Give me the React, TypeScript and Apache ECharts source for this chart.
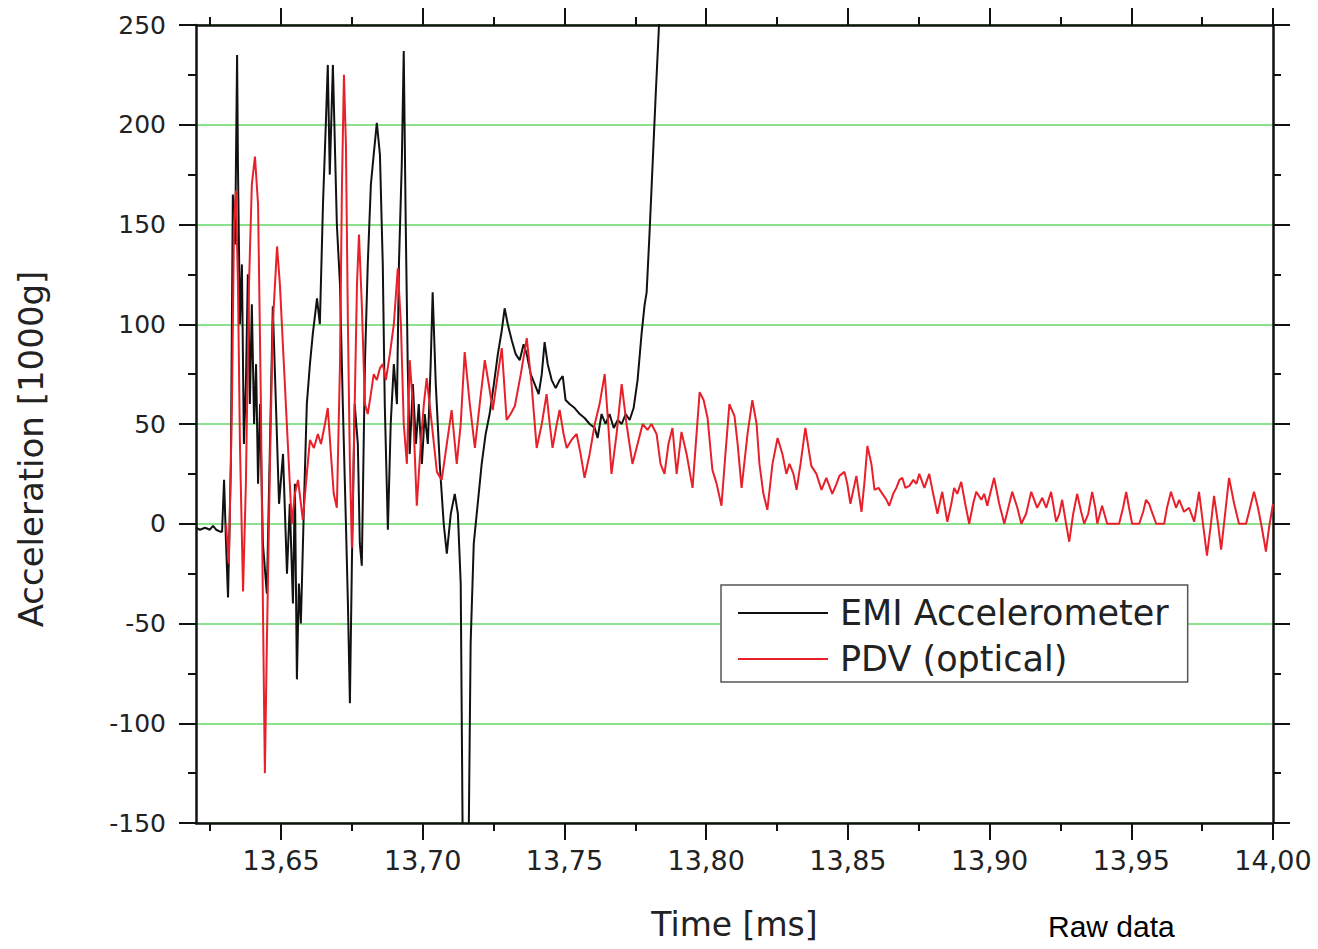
import React, { useEffect, useRef } from "react";
import * as echarts from "echarts";

// Time [ms], Acceleration [1000 g]
const emiSamples: [number, number][] = [
  [13.62, -2], [13.6214, -3], [13.6232, -2], [13.6249, -3], [13.626, -1], [13.6271, -3], [13.6285, -4], [13.6292, -4], [13.6299, 22], [13.6306, -10],
  [13.6313, -37], [13.6323, 30], [13.633, 165], [13.6338, 140], [13.6345, 235], [13.6348, 180], [13.6355, 100], [13.6362, 130], [13.6369, 40], [13.6376, 70],
  [13.6383, 125], [13.639, 60], [13.6397, 110], [13.6405, 50], [13.6412, 80], [13.6419, 20], [13.6426, 60], [13.6436, -10], [13.645, -35], [13.6461, 40],
  [13.6471, 109], [13.6482, 60], [13.6493, 10], [13.6507, 35], [13.6521, -25], [13.6531, 10], [13.6542, -40], [13.6549, 20], [13.6556, -78], [13.6563, -30],
  [13.657, -50], [13.6581, 10], [13.6591, 60], [13.6602, 80], [13.6612, 95], [13.6627, 113], [13.6637, 100], [13.6648, 160], [13.6658, 200], [13.6665, 230],
  [13.6672, 175], [13.6683, 230], [13.669, 190], [13.6697, 150], [13.6708, 120], [13.6718, 60], [13.6729, 0], [13.6736, -40], [13.6743, -90], [13.675, -20],
  [13.676, 60], [13.6771, 40], [13.6778, -10], [13.6785, -21], [13.6796, 80], [13.6806, 130], [13.6817, 170], [13.6827, 185], [13.6838, 201], [13.6849, 185],
  [13.6859, 130], [13.6866, 60], [13.6877, -3], [13.6887, 50], [13.6898, 80], [13.6909, 60], [13.6916, 130], [13.6926, 180], [13.6933, 237], [13.694, 150],
  [13.6947, 80], [13.6954, 35], [13.6965, 70], [13.6976, 40], [13.6986, 60], [13.6997, 30], [13.7007, 55], [13.7018, 40], [13.7028, 80], [13.7035, 116],
  [13.7046, 70], [13.706, 30], [13.7074, 0], [13.7085, -15], [13.7099, 5], [13.7113, 15], [13.7124, 5], [13.7134, -30], [13.7141, -160], [13.7152, -200],
  [13.7162, -160], [13.7169, -60], [13.718, -10], [13.7194, 10], [13.7208, 30], [13.7222, 45], [13.7236, 55], [13.7251, 70], [13.7265, 85], [13.7279, 97],
  [13.7289, 108], [13.73, 100], [13.7314, 92], [13.7328, 85], [13.7342, 82], [13.7356, 90], [13.7367, 85], [13.7381, 75], [13.7395, 70], [13.7409, 65],
  [13.742, 75], [13.743, 91], [13.7441, 80], [13.7455, 72], [13.7469, 68], [13.7483, 72], [13.7494, 74], [13.7504, 62], [13.7518, 60], [13.7536, 58],
  [13.7554, 55], [13.7571, 53], [13.7589, 50], [13.7607, 48], [13.7617, 43], [13.7631, 55], [13.7645, 50], [13.7659, 55], [13.7674, 48], [13.7688, 52],
  [13.7702, 50], [13.7716, 55], [13.773, 52], [13.7744, 58], [13.7758, 72], [13.7772, 95], [13.7783, 110], [13.779, 116], [13.78, 145], [13.7811, 180],
  [13.7822, 215], [13.7832, 245], [13.7843, 280],
];

const pdvSamples: [number, number][] = [
  [13.6306, 0], [13.6316, -20], [13.6327, 60], [13.6334, 150], [13.6341, 167], [13.6348, 120], [13.6355, 40], [13.6366, -34], [13.6376, 20], [13.6387, 120],
  [13.6397, 170], [13.6408, 184], [13.6419, 160], [13.6429, 60], [13.6436, -40], [13.6443, -125], [13.645, -60], [13.6461, 30], [13.6471, 100], [13.6486, 139],
  [13.6496, 120], [13.651, 80], [13.6524, 40], [13.6538, 0], [13.6549, 15], [13.656, 22], [13.6577, 2], [13.6591, 25], [13.6602, 42], [13.6616, 38],
  [13.663, 45], [13.6641, 40], [13.6655, 50], [13.6665, 58], [13.6676, 35], [13.6686, 15], [13.6697, 8], [13.6708, 80], [13.6715, 170], [13.6722, 225],
  [13.6729, 190], [13.6736, 100], [13.6743, 30], [13.675, -12], [13.676, 60], [13.6768, 120], [13.6775, 145], [13.6785, 110], [13.6796, 60], [13.6806, 55],
  [13.6817, 65], [13.6827, 75], [13.6838, 72], [13.6849, 78], [13.6859, 80], [13.687, 72], [13.6884, 85], [13.6898, 100], [13.6912, 128], [13.6923, 100],
  [13.6933, 50], [13.6944, 30], [13.6954, 82], [13.6965, 60], [13.6979, 9], [13.6993, 40], [13.7004, 60], [13.7014, 73], [13.7032, 50], [13.705, 26],
  [13.7067, 22], [13.7085, 40], [13.7102, 57], [13.712, 30], [13.7134, 50], [13.7148, 86], [13.7166, 60], [13.7184, 38], [13.7201, 60], [13.7219, 82],
  [13.7233, 70], [13.7247, 57], [13.7265, 75], [13.7279, 88], [13.7296, 52], [13.731, 55], [13.7325, 59], [13.7346, 75], [13.7367, 93], [13.7384, 70],
  [13.7402, 38], [13.742, 50], [13.7437, 65], [13.7448, 50], [13.7458, 38], [13.7473, 50], [13.7483, 57], [13.7497, 45], [13.7508, 38], [13.7525, 42],
  [13.7543, 45], [13.7557, 35], [13.7571, 23], [13.7589, 35], [13.7607, 50], [13.7624, 60], [13.7642, 75], [13.7652, 55], [13.7666, 25], [13.7684, 45],
  [13.7702, 70], [13.7719, 50], [13.774, 30], [13.7758, 40], [13.7776, 50], [13.7793, 47], [13.7807, 50], [13.7825, 45], [13.7839, 30], [13.7853, 25],
  [13.7867, 40], [13.7881, 48], [13.7896, 25], [13.7913, 46], [13.7931, 35], [13.7952, 18], [13.7977, 66], [13.7991, 62], [13.8005, 53], [13.8022, 27],
  [13.8037, 20], [13.8054, 9], [13.8068, 35], [13.8082, 60], [13.81, 54], [13.8111, 40], [13.8125, 18], [13.8146, 45], [13.8163, 62], [13.8178, 50],
  [13.8188, 30], [13.8202, 15], [13.8216, 7], [13.8234, 30], [13.8252, 43], [13.8269, 35], [13.8283, 25], [13.8294, 30], [13.8308, 25], [13.8319, 17],
  [13.8333, 30], [13.835, 48], [13.8361, 38], [13.8371, 29], [13.8389, 25], [13.8407, 17], [13.8424, 23], [13.8445, 15], [13.846, 20], [13.847, 24],
  [13.8488, 26], [13.8498, 20], [13.8509, 10], [13.853, 24], [13.8548, 6], [13.8558, 20], [13.8569, 39], [13.8583, 30], [13.8594, 17], [13.8608, 18],
  [13.8622, 15], [13.8636, 12], [13.8646, 9], [13.866, 15], [13.8671, 18], [13.8682, 22], [13.8692, 23], [13.8703, 18], [13.8717, 19], [13.8731, 22],
  [13.8742, 20], [13.8752, 25], [13.877, 18], [13.8787, 25], [13.8801, 15], [13.8816, 5], [13.8833, 16], [13.8851, 1], [13.8865, 10], [13.8875, 18],
  [13.8886, 15], [13.89, 21], [13.8914, 10], [13.8928, 0], [13.8942, 10], [13.8953, 16], [13.8971, 12], [13.8981, 15], [13.8992, 9], [13.9002, 15],
  [13.9016, 23], [13.9034, 10], [13.9052, 0], [13.9066, 8], [13.908, 16], [13.9098, 8], [13.9112, 0], [13.9129, 5], [13.9147, 16], [13.9168, 8],
  [13.9186, 13], [13.92, 8], [13.9217, 16], [13.9235, 1], [13.9246, 5], [13.9256, 12], [13.927, 0], [13.9281, -9], [13.9295, 5], [13.9309, 15],
  [13.9323, 6], [13.9334, 0], [13.9348, 5], [13.9362, 16], [13.9373, 8], [13.938, 0], [13.9397, 9], [13.9415, 0], [13.9436, 0], [13.9457, 0],
  [13.9471, 8], [13.9482, 16], [13.9492, 8], [13.9503, 0], [13.9528, 0], [13.9542, 6], [13.9552, 12], [13.9563, 10], [13.957, 7], [13.9588, 0],
  [13.9616, 0], [13.9626, 8], [13.964, 16], [13.9658, 8], [13.9669, 12], [13.9686, 6], [13.9704, 8], [13.9722, 1], [13.9739, 16], [13.9753, 0],
  [13.9767, -16], [13.9781, 0], [13.9792, 14], [13.9806, 0], [13.9817, -13], [13.9831, 5], [13.9845, 23], [13.9863, 10], [13.988, 0], [13.9905, 0],
  [13.9919, 8], [13.9933, 16], [13.9947, 8], [13.9958, 0], [13.9968, -8], [13.9975, -14], [13.9986, -2], [14.0, 10],
];

const seriesNames = ["EMI Accelerometer", "PDV (optical)"];
const xMajorTicks = [13.65, 13.7, 13.75, 13.8, 13.85, 13.9, 13.95, 14.0];
const xMinorTicks = [13.625, 13.675, 13.725, 13.775, 13.825, 13.875, 13.925, 13.975];
const xRange = [13.62, 14.0];
const yRange = [-150, 250];
const yStep = 50;

const FONT = "DejaVu Sans";
const AXIS = "#111";
const TEXT = "#222";

export default function App() {
  const ref = useRef<HTMLDivElement>(null);
  useEffect(() => {
    if (!ref.current) return;
    const chart = echarts.init(ref.current, undefined, { renderer: "svg" });
    const baseX = {
      type: "value" as const,
      min: xRange[0],
      max: xRange[1],
      splitLine: { show: false },
    };
    const baseY = {
      type: "value" as const,
      min: yRange[0],
      max: yRange[1],
      interval: yStep,
    };
    chart.setOption({
      animation: false,
      backgroundColor: "#fff",
      grid: { left: 196, right: 45, top: 25, bottom: 126 },
      legend: {
        data: seriesNames,
        orient: "vertical",
        left: 721,
        top: 585,
        icon: "rect",
        itemWidth: 90,
        itemHeight: 2,
        itemGap: 6,
        padding: [8, 19, 3, 17],
        borderColor: "#555",
        borderWidth: 1.5,
        backgroundColor: "#fff",
        textStyle: { fontSize: 35, lineHeight: 40, fontFamily: FONT, color: TEXT, padding: [0, 0, 0, 7] },
      },
      xAxis: [
        {
          ...baseX,
          position: "bottom",
          axisLine: { onZero: false, lineStyle: { color: AXIS, width: 2.5 } },
          axisTick: { customValues: xMajorTicks, length: 17, lineStyle: { color: AXIS, width: 2 } },
          axisLabel: {
            customValues: xMajorTicks,
            formatter: (v: number) => v.toFixed(2).replace(".", ","),
            margin: 24,
            fontSize: 27,
            fontFamily: FONT,
            color: TEXT,
          },
          name: "Time [ms]",
          nameLocation: "middle",
          nameGap: 85,
          nameTextStyle: { fontSize: 33, fontFamily: FONT, color: TEXT },
        },
        {
          ...baseX,
          position: "bottom",
          axisLine: { show: false, onZero: false },
          axisTick: { customValues: xMinorTicks, length: 8, lineStyle: { color: AXIS, width: 2 } },
          axisLabel: { show: false },
        },
        {
          ...baseX,
          position: "top",
          axisLine: { onZero: false, lineStyle: { color: AXIS, width: 2.5 } },
          axisTick: { customValues: xMajorTicks, length: 17, lineStyle: { color: AXIS, width: 2 } },
          axisLabel: { show: false },
        },
        {
          ...baseX,
          position: "top",
          axisLine: { show: false, onZero: false },
          axisTick: { customValues: xMinorTicks, length: 8, lineStyle: { color: AXIS, width: 2 } },
          axisLabel: { show: false },
        },
      ],
      yAxis: [
        {
          ...baseY,
          position: "left",
          axisLine: { show: true, onZero: false, lineStyle: { color: AXIS, width: 2.5 } },
          axisTick: { show: true, length: 17, lineStyle: { color: AXIS, width: 2 } },
          minorTick: { show: true, splitNumber: 2, length: 8, lineStyle: { color: AXIS, width: 2 } },
          axisLabel: { margin: 30, fontSize: 25, fontFamily: FONT, color: TEXT },
          splitLine: { show: true, lineStyle: { color: "#66d866", width: 1.5 } },
          name: "Acceleration [1000g]",
          nameLocation: "middle",
          nameRotate: 90,
          nameGap: 148,
          nameTextStyle: { fontSize: 34, fontFamily: FONT, color: TEXT, padding: [0, 50, 0, 0] },
        },
        {
          ...baseY,
          position: "right",
          axisLine: { show: true, onZero: false, lineStyle: { color: AXIS, width: 2.5 } },
          axisTick: { show: true, length: 17, lineStyle: { color: AXIS, width: 2 } },
          minorTick: { show: true, splitNumber: 2, length: 8, lineStyle: { color: AXIS, width: 2 } },
          axisLabel: { show: false },
          splitLine: { show: false },
        },
      ],
      series: [
        {
          name: seriesNames[0],
          type: "line",
          data: emiSamples,
          xAxisIndex: 0,
          yAxisIndex: 0,
          showSymbol: false,
          symbol: "none",
          clip: true,
          lineStyle: { color: "#111", width: 2 },
          itemStyle: { color: "#111" },
        },
        {
          name: seriesNames[1],
          type: "line",
          data: pdvSamples,
          xAxisIndex: 0,
          yAxisIndex: 0,
          showSymbol: false,
          symbol: "none",
          clip: true,
          lineStyle: { color: "#e8202a", width: 2 },
          itemStyle: { color: "#e8202a" },
        },
      ],
      graphic: [
        {
          type: "text",
          left: 1048,
          top: 911,
          style: { text: "Raw data", fontSize: 30, fontFamily: "Liberation Sans", fill: "#000" },
        },
      ],
    });
    return () => chart.dispose();
  }, []);
  return (
    <div
      ref={ref}
      style={{ position: "absolute", left: 0, top: 0, width: 1318, height: 949, background: "#fff" }}
    />
  );
}
